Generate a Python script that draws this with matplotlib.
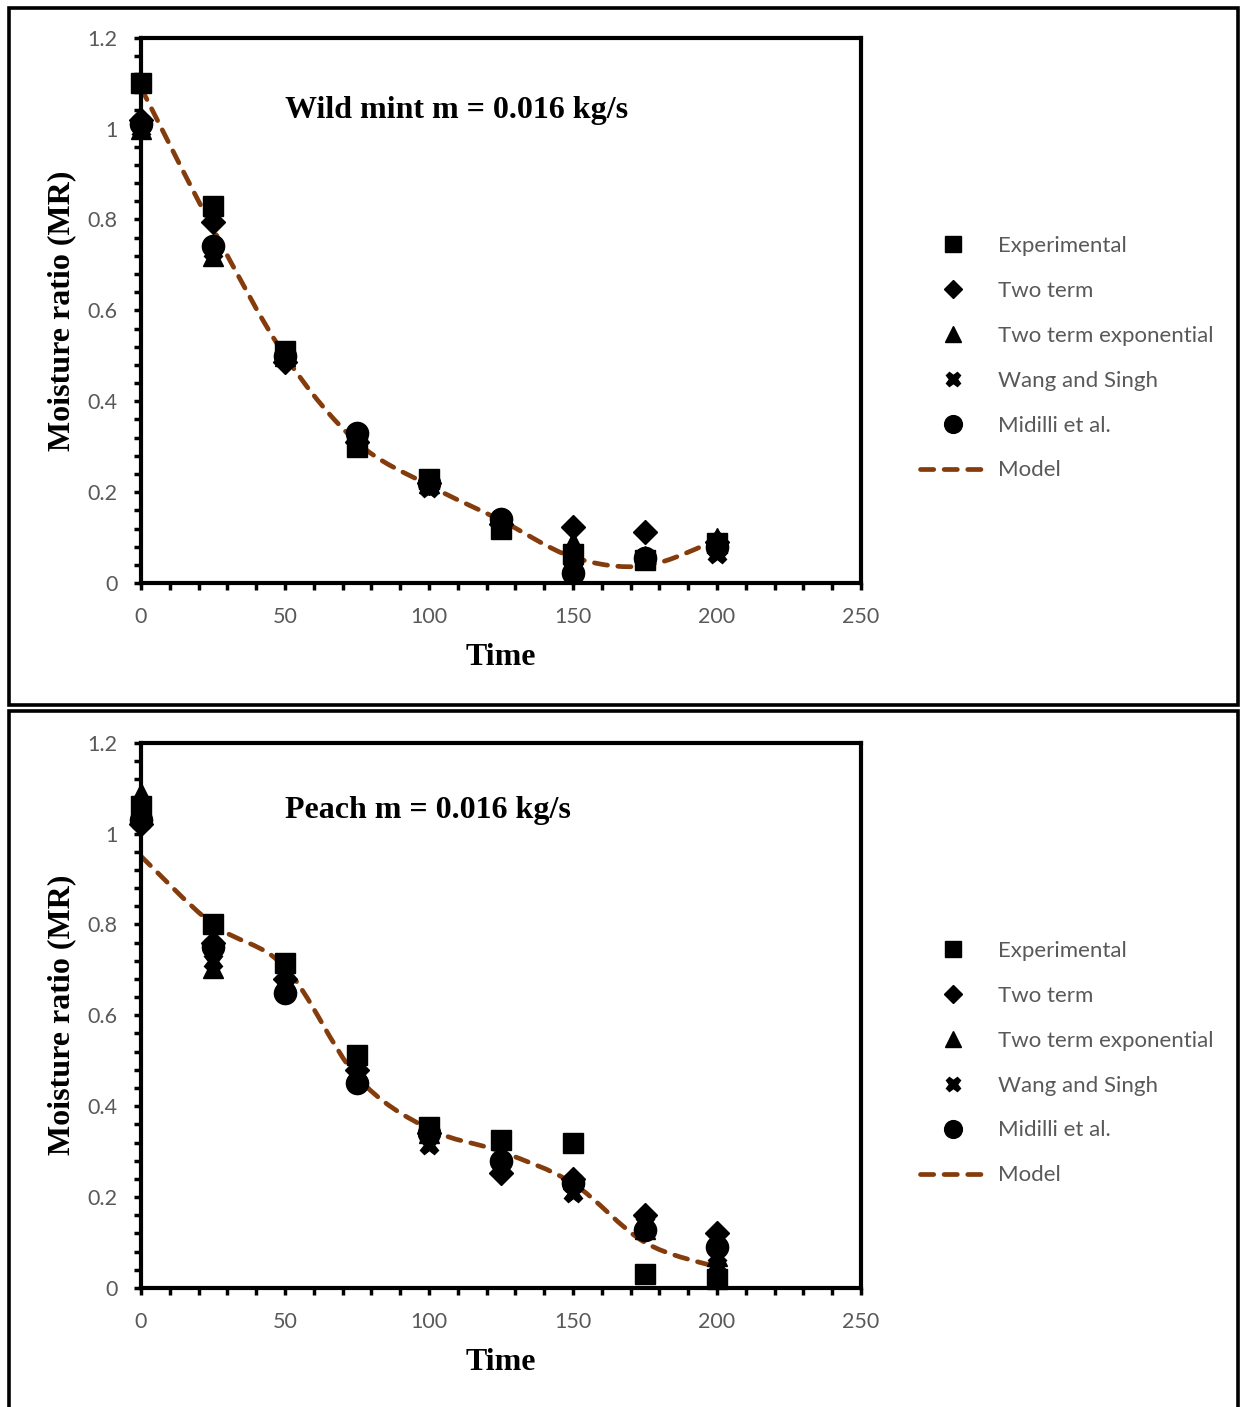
import matplotlib.pyplot as plt
import numpy as np
from matplotlib.path import Path
from matplotlib.patches import PathPatch, Rectangle
from matplotlib.lines import Line2D
from matplotlib.ticker import MultipleLocator, FuncFormatter

# drying time (min)
t = [0, 25, 50, 75, 100, 125, 150, 175, 200]

# Wild mint, m = 0.016 kg/s
exp_mint = [1.10, 0.83, 0.51, 0.30, 0.23, 0.12, 0.065, 0.05, 0.088]
twoterm_mint = [1.02, 0.795, 0.487, 0.31, 0.22, 0.13, 0.123, 0.112, 0.09]
twoexp_mint = [1.00, 0.72, 0.50, 0.31, 0.22, 0.13, 0.09, 0.06, 0.10]
wang_mint = [1.00, 0.73, 0.50, 0.31, 0.21, 0.13, 0.05, 0.055, 0.065]
midilli_mint = [1.01, 0.742, 0.50, 0.33, 0.22, 0.14, 0.022, 0.055, 0.08]
model_mint = [1.09, 0.78, 0.50, 0.31, 0.215, 0.138, 0.057, 0.038, 0.095]

# Peach, m = 0.016 kg/s
exp_peach = [1.06, 0.80, 0.716, 0.512, 0.354, 0.325, 0.32, 0.03, 0.02]
twoterm_peach = [1.02, 0.76, 0.68, 0.48, 0.34, 0.253, 0.24, 0.16, 0.12]
twoexp_peach = [1.09, 0.705, 0.68, 0.48, 0.34, 0.29, 0.24, 0.13, 0.07]
wang_peach = [1.04, 0.72, 0.67, 0.47, 0.315, 0.28, 0.21, 0.14, 0.05]
midilli_peach = [1.03, 0.75, 0.65, 0.45, 0.34, 0.28, 0.23, 0.128, 0.09]
model_peach = [0.95, 0.80, 0.706, 0.465, 0.35, 0.30, 0.23, 0.10, 0.046]

series_names = ['Experimental', 'Two term', 'Two term exponential',
                'Wang and Singh', 'Midilli et al.']
markers = ['s', 'D', '^', 'X', 'o']
msizes = [15, 12, 15, 13, 16]
brown = '#843C0C'
grey = '#595959'
tick_font = 'Lato'
serif = 'Liberation Serif'
dash = (0, (2.8, 2.2))


def smooth_path(x, y):
    # excel-like smoothed line: catmull-rom segments as cubic beziers
    pts = np.column_stack([x, y]).astype(float)
    n = len(pts)
    verts = [pts[0]]
    codes = [Path.MOVETO]
    for i in range(n - 1):
        p0 = pts[max(i - 1, 0)]
        p1 = pts[i]
        p2 = pts[i + 1]
        p3 = pts[min(i + 2, n - 1)]
        verts += [p1 + (p2 - p0) / 6, p2 - (p3 - p1) / 6, p2]
        codes += [Path.CURVE4] * 3
    return Path(verts, codes)


fig = plt.figure(figsize=(12.4, 14.07), dpi=100)

# panel frames
fig.patches.append(Rectangle((0.0073, 0.499), 0.991, 0.4954, transform=fig.transFigure,
                             fill=False, edgecolor='black', linewidth=2.6))
fig.patches.append(Rectangle((0.0073, -0.02), 0.991, 0.5147, transform=fig.transFigure,
                             fill=False, edgecolor='black', linewidth=2.6))

panels = [
    ([exp_mint, twoterm_mint, twoexp_mint, wang_mint, midilli_mint], model_mint,
     'Wild mint m = 0.016 kg/s', 0.5856, 0.867),
    ([exp_peach, twoterm_peach, twoexp_peach, wang_peach, midilli_peach], model_peach,
     'Peach m = 0.016 kg/s', 0.0846, 0.876),
]

for data, model, title, bottom, ty in panels:
    ax = fig.add_axes([0.1137, bottom, 0.5806, 0.3876])

    patch = PathPatch(smooth_path(t, model), fill=False, edgecolor=brown, linewidth=3.4,
                      linestyle=dash, capstyle='round', zorder=2)
    ax.add_patch(patch)

    for vals, mk, ms in zip(data[::-1], markers[::-1], msizes[::-1]):
        ax.plot(t, vals, linestyle='none', marker=mk, markersize=ms,
                color='black', zorder=3, clip_on=False)

    ax.set_xlim(0, 250)
    ax.set_ylim(0, 1.2)
    ax.xaxis.set_major_locator(MultipleLocator(50))
    ax.xaxis.set_minor_locator(MultipleLocator(10))
    ax.yaxis.set_major_locator(MultipleLocator(0.2))
    ax.yaxis.set_minor_locator(MultipleLocator(0.04))
    ax.yaxis.set_major_formatter(FuncFormatter(lambda v, p: f'{round(v, 2):g}'))
    ax.tick_params(which='both', direction='out', length=5, width=2.5,
                   colors='black', labelcolor=grey, labelsize=15.5, pad=12)
    for lab in ax.get_xticklabels() + ax.get_yticklabels():
        lab.set_fontfamily(tick_font)
    for sp in ax.spines.values():
        sp.set_linewidth(3)

    ax.set_xlabel('Time', fontfamily=serif, fontweight='bold', fontsize=23, labelpad=12)
    ax.set_ylabel('Moisture ratio (MR)', fontfamily=serif, fontweight='bold',
                  fontsize=23, labelpad=8)
    ax.text(0.2, ty, title, transform=ax.transAxes, ha='left', va='center',
            fontfamily=serif, fontweight='bold', fontsize=23)

    handles = [Line2D([], [], linestyle='none', marker=mk, markersize=ms * 0.8, color='black')
               for mk, ms in zip(markers, msizes)]
    handles.append(Line2D([], [], color=brown, linewidth=3.4, linestyle=dash,
                          dash_capstyle='round'))
    leg = fig.legend(handles, series_names + ['Model'], loc='center left',
                     bbox_to_anchor=(0.742, bottom + 0.3876 * 0.42 - 0.003), frameon=False,
                     prop={'family': tick_font, 'size': 16}, labelcolor=grey,
                     handlelength=3.0, handletextpad=0.5, labelspacing=1.12,
                     borderpad=0, borderaxespad=0)

fig.savefig('out.png', dpi=100)
